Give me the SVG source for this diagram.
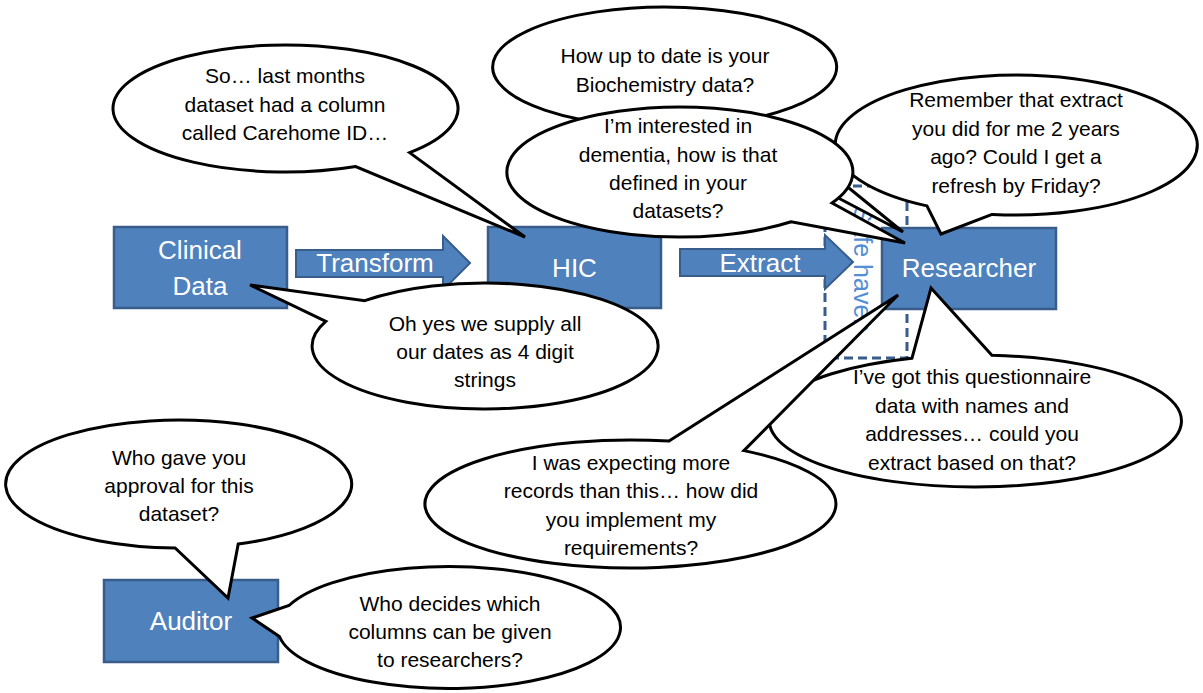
<svg xmlns="http://www.w3.org/2000/svg" width="1203" height="693" viewBox="0 0 1203 693">
<style>
.box{fill:#4F81BD;stroke:#385D8A;stroke-width:2.5}
.arrow{fill:#4F81BD;stroke:#385D8A;stroke-width:2}
.lbl{font-family:"Liberation Sans",Arial,sans-serif;font-size:26px;fill:#FFFFFF;text-anchor:middle}
.co{fill:#FFFFFF;stroke:#000000;stroke-width:3;stroke-linejoin:miter}
.ct{font-family:"Liberation Sans",Arial,sans-serif;font-size:21px;fill:#000000;text-anchor:middle}
.haven{fill:none;stroke:#385D8A;stroke-width:3;stroke-dasharray:9 5}
.havent{font-family:"Liberation Sans",Arial,sans-serif;font-size:25px;fill:#558ED5;text-anchor:middle}
</style>
<rect width="1203" height="693" fill="#FFFFFF"/>

<g id="safe-haven">
<rect class="haven" x="825" y="186" width="82" height="172"/>
<text class="havent" transform="translate(854,269) rotate(90)">Safe haven</text>
</g>

<g id="connectors">
<polygon id="transform" class="arrow" points="296,250 443,250 443,236 470,263 443,290 443,277 296,277"/>
<polygon id="extract" class="arrow" points="680,249 825,249 825,235 853,262 825,289 825,276 680,276"/>
<text class="lbl" x="375" y="272">Transform</text>
<text class="lbl" x="760" y="272">Extract</text>
</g>

<g id="clinical-data">
<rect class="box" x="114" y="227" width="173" height="81"/>
<text class="lbl" x="200" y="258.5">Clinical</text>
<text class="lbl" x="200" y="295">Data</text>
</g>
<g id="hic">
<rect class="box" x="488" y="227" width="173" height="81"/>
<text class="lbl" x="574.5" y="277">HIC</text>
</g>
<g id="researcher">
<rect class="box" x="882" y="228" width="174" height="81"/>
<text class="lbl" x="969" y="277">Researcher</text>
</g>
<g id="auditor">
<rect class="box" x="104" y="580" width="174" height="82"/>
<text class="lbl" x="191" y="630">Auditor</text>
</g>

<g id="callout-remember">
<path class="co" d="M992.1,214.4 L941,234 L926.9,205.9 A181,70 0 1 1 992.1,214.4 Z"/>
<text class="ct" x="1016" y="107">Remember that extract</text>
<text class="ct" x="1016" y="135.5">you did for me 2 years</text>
<text class="ct" x="1016" y="164">ago? Could I get a</text>
<text class="ct" x="1016" y="192.5">refresh by Friday?</text>
</g>

<g id="callout-biochemistry">
<path class="co" d="M761.2,116.7 L903,232 L700.8,125.7 A172,60 0 1 1 761.2,116.7 Z"/>
<text class="ct" x="665" y="63">How up to date is your</text>
<text class="ct" x="665" y="92">Biochemistry data?</text>
</g>

<g id="callout-dementia">
<path class="co" d="M832,203 L905,243 L791.2,221.8 A173,65 0 1 1 832,203 Z"/>
<text class="ct" x="678" y="133">I’m interested in</text>
<text class="ct" x="678" y="162">dementia, how is that</text>
<text class="ct" x="678" y="190">defined in your</text>
<text class="ct" x="678" y="218">datasets?</text>
</g>

<g id="callout-carehome">
<path class="co" d="M409.6,152.6 L525,237 L355.7,166.5 A172.5,63.5 0 1 1 409.6,152.6 Z"/>
<text class="ct" x="285" y="83">So… last months</text>
<text class="ct" x="285" y="111.5">dataset had a column</text>
<text class="ct" x="285" y="140">called Carehome ID…</text>
</g>

<g id="callout-dates">
<path class="co" d="M325.8,321.4 L250,285 L364.8,300.7 A173,63 0 1 1 325.8,321.4 Z"/>
<text class="ct" x="485" y="330.5">Oh yes we supply all</text>
<text class="ct" x="485" y="358.5">our dates as 4 digit</text>
<text class="ct" x="485" y="386.5">strings</text>
</g>

<g id="callout-questionnaire">
<path class="co" d="M912,358.2 L931,288 L991.9,355.2 A206,66 0 1 1 912,358.2 Z"/>
<text class="ct" x="972" y="384">I’ve got this questionnaire</text>
<text class="ct" x="972" y="412.5">data with names and</text>
<text class="ct" x="972" y="441">addresses… could you</text>
<text class="ct" x="972" y="469.5">extract based on that?</text>
</g>

<g id="callout-records">
<path class="co" d="M669,441.1 L898,295 L743.9,450.6 A205.5,64 0 1 1 669,441.1 Z"/>
<text class="ct" x="631" y="469.5">I was expecting more</text>
<text class="ct" x="631" y="498">records than this… how did</text>
<text class="ct" x="631" y="526.5">you implement my</text>
<text class="ct" x="631" y="555">requirements?</text>
</g>

<g id="callout-approval">
<path class="co" d="M238.2,544.1 L228,598 L175.1,548 A173,64 0 1 1 238.2,544.1 Z"/>
<text class="ct" x="179" y="465">Who gave you</text>
<text class="ct" x="179" y="493">approval for this</text>
<text class="ct" x="179" y="521">dataset?</text>
</g>

<g id="callout-columns">
<path class="co" d="M279.4,636.5 L252,618 L289,605.5 A171.5,61 0 1 1 279.4,636.5 Z"/>
<text class="ct" x="450" y="610.5">Who decides which</text>
<text class="ct" x="450" y="639">columns can be given</text>
<text class="ct" x="450" y="667">to researchers?</text>
</g>
</svg>
